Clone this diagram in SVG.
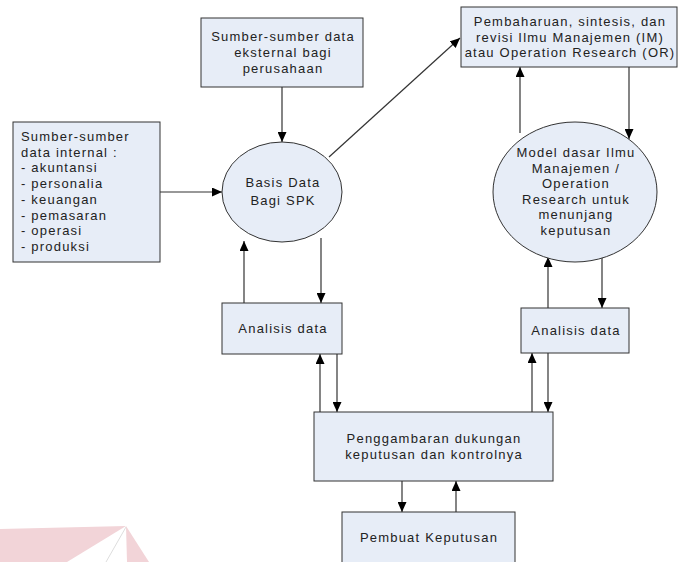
<svg xmlns="http://www.w3.org/2000/svg" width="680" height="562" viewBox="0 0 680 562">
<style>
.box{fill:#e7edf7;stroke:#333;stroke-width:1}
.t{font-family:"Liberation Sans",Arial,sans-serif;font-size:13px;letter-spacing:1.2px;fill:#222}
.c{text-anchor:middle}
.ln{stroke:#333;stroke-width:1.2;fill:none}
</style>
<defs>
<marker id="ah" markerUnits="userSpaceOnUse" markerWidth="10" markerHeight="9" refX="10" refY="4.5" orient="auto">
<path d="M0,0 L10,4.5 L0,9 z" fill="#000"/>
</marker>
</defs>
<g id="watermark">
<polygon points="0,529 126,526 67,562 0,562" fill="#f2d4d8"/>
<polygon points="126,526 149,562 127,562" fill="#f2d4d8"/>
<line x1="126" y1="527" x2="106" y2="562" stroke="#ddd" stroke-width="1"/>
</g>
<g id="connectors">
<line class="ln" x1="160" y1="192" x2="222" y2="192" marker-end="url(#ah)"/>
<line class="ln" x1="282" y1="87" x2="282" y2="142" marker-end="url(#ah)"/>
<line class="ln" x1="329" y1="157" x2="460" y2="38" marker-end="url(#ah)"/>
<line class="ln" x1="244" y1="303" x2="244" y2="241" marker-end="url(#ah)"/>
<line class="ln" x1="321" y1="238" x2="321" y2="303" marker-end="url(#ah)"/>
<line class="ln" x1="320" y1="412" x2="320" y2="354" marker-end="url(#ah)"/>
<line class="ln" x1="337" y1="354" x2="337" y2="412" marker-end="url(#ah)"/>
<line class="ln" x1="520" y1="133" x2="520" y2="67" marker-end="url(#ah)"/>
<line class="ln" x1="629" y1="67" x2="629" y2="139" marker-end="url(#ah)"/>
<line class="ln" x1="548" y1="308" x2="548" y2="257" marker-end="url(#ah)"/>
<line class="ln" x1="602" y1="255" x2="602" y2="308" marker-end="url(#ah)"/>
<line class="ln" x1="532" y1="412" x2="532" y2="353" marker-end="url(#ah)"/>
<line class="ln" x1="548" y1="353" x2="548" y2="412" marker-end="url(#ah)"/>
<line class="ln" x1="402" y1="481" x2="402" y2="512" marker-end="url(#ah)"/>
<line class="ln" x1="456" y1="512" x2="456" y2="481" marker-end="url(#ah)"/>
</g>
<g id="internal">
<rect class="box" x="13" y="122" width="147" height="140"/>
<text class="t" x="21" y="141">Sumber-sumber</text>
<text class="t" x="21" y="157">data internal :</text>
<text class="t" x="21" y="172">- akuntansi</text>
<text class="t" x="21" y="188">- personalia</text>
<text class="t" x="21" y="204">- keuangan</text>
<text class="t" x="21" y="220">- pemasaran</text>
<text class="t" x="21" y="235">- operasi</text>
<text class="t" x="21" y="251">- produksi</text>
</g>
<g id="external">
<rect class="box" x="201" y="18" width="162" height="69"/>
<text class="t c" x="283" y="41">Sumber-sumber data</text>
<text class="t c" x="283" y="57">eksternal bagi</text>
<text class="t c" x="283" y="73">perusahaan</text>
</g>
<g id="basisdata">
<ellipse class="box" cx="282" cy="192" rx="60" ry="50"/>
<text class="t c" x="283" y="187">Basis Data</text>
<text class="t c" x="283" y="205">Bagi SPK</text>
</g>
<g id="analisis1">
<rect class="box" x="222" y="303" width="120" height="51"/>
<text class="t c" x="283" y="333">Analisis data</text>
</g>
<g id="pembaharuan">
<rect class="box" x="461" y="7" width="216" height="60"/>
<text class="t c" x="570" y="26">Pembaharuan, sintesis, dan</text>
<text class="t c" x="570" y="42">revisi Ilmu Manajemen (IM)</text>
<text class="t c" x="570" y="57">atau Operation Research (OR)</text>
</g>
<g id="model">
<ellipse class="box" cx="575" cy="192" rx="82" ry="70"/>
<text class="t c" x="576" y="157">Model dasar Ilmu</text>
<text class="t c" x="576" y="173">Manajemen /</text>
<text class="t c" x="576" y="188">Operation</text>
<text class="t c" x="576" y="204">Research untuk</text>
<text class="t c" x="576" y="219">menunjang</text>
<text class="t c" x="576" y="235">keputusan</text>
</g>
<g id="analisis2">
<rect class="box" x="521" y="308" width="108" height="45"/>
<text class="t c" x="576" y="335">Analisis data</text>
</g>
<g id="penggambaran">
<rect class="box" x="314" y="412" width="239" height="69"/>
<text class="t c" x="434" y="443">Penggambaran dukungan</text>
<text class="t c" x="434" y="459">keputusan dan kontrolnya</text>
</g>
<g id="pembuat">
<rect class="box" x="342" y="512" width="173" height="60"/>
<text class="t c" x="429" y="542">Pembuat Keputusan</text>
</g>
</svg>
